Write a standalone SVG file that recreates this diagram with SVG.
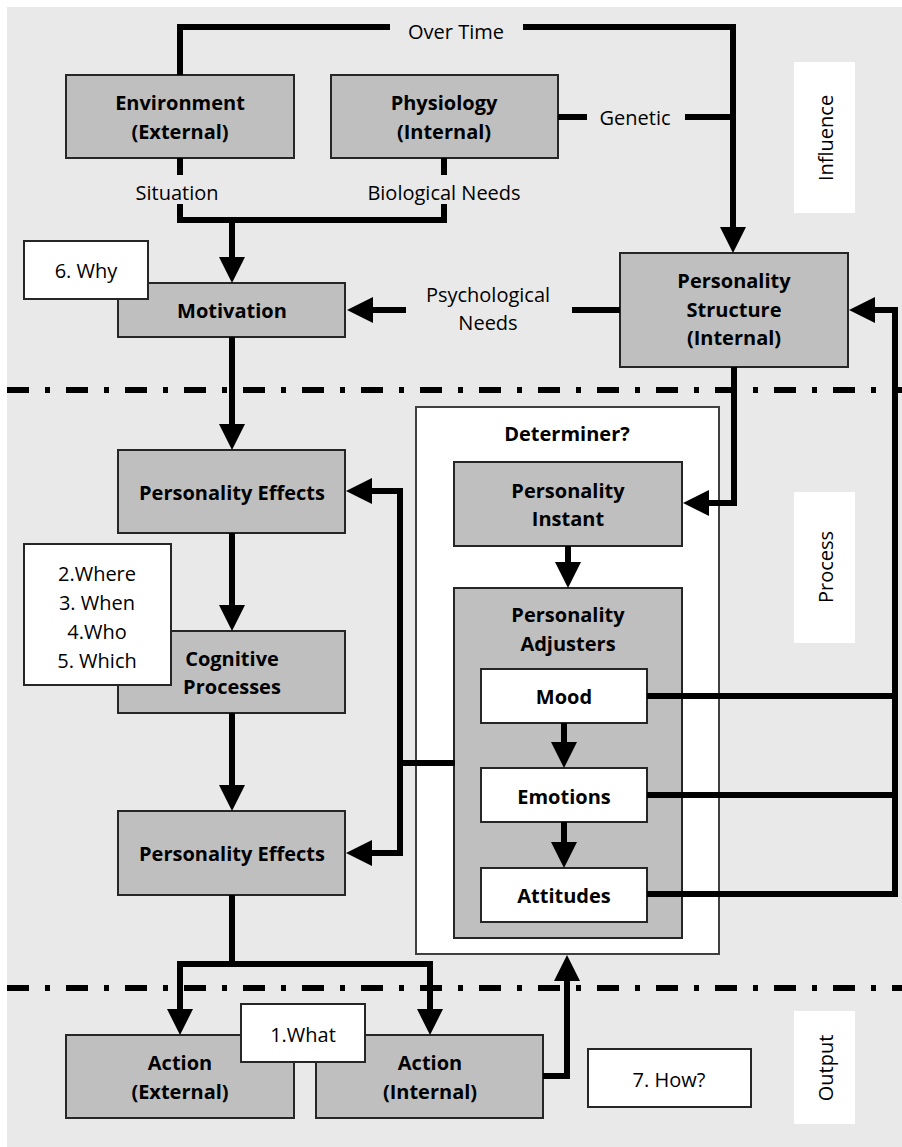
<svg xmlns="http://www.w3.org/2000/svg" width="902" height="1147" viewBox="0 0 902 1147">
  <style>
    .bg { fill: #e9e9e9; }
    .box { fill: #bfbfbf; stroke: #262626; stroke-width: 2; }
    .note { fill: #ffffff; stroke: #262626; stroke-width: 2; }
    .frame { fill: #ffffff; stroke: #404040; stroke-width: 2; }
    .tag { fill: #ffffff; }
    text { font-family: "Open Sans", "Noto Sans", "Liberation Sans", sans-serif; font-size: 20px; fill: #000; text-anchor: middle; }
    .b { font-weight: bold; }
    .wire { fill: none; stroke: #000; stroke-width: 6; stroke-linejoin: miter; }
    .arrow { marker-end: url(#head); }
    .sep { fill: none; stroke: #000; stroke-width: 6; stroke-dasharray: 22 16 5 16; }
  </style>
  <defs>
    <marker id="head" markerUnits="userSpaceOnUse" markerWidth="27" markerHeight="26" refX="1" refY="13" orient="auto">
      <path d="M0,0 L26,13 L0,26 Z" fill="#000"/>
    </marker>
  </defs>

  <!-- canvas -->
  <rect class="bg" x="7" y="7" width="895" height="1140"/>

  <!-- section separators -->
  <g id="separators">
    <line class="sep" x1="7" y1="390" x2="902" y2="390"/>
    <line class="sep" x1="7" y1="988" x2="902" y2="988"/>
  </g>

  <!-- section tags -->
  <g id="tag-influence">
    <rect class="tag" x="794" y="62" width="61" height="151"/>
    <text transform="translate(833,138) rotate(-90)">Influence</text>
  </g>
  <g id="tag-process">
    <rect class="tag" x="794" y="492" width="61" height="151"/>
    <text transform="translate(833,567) rotate(-90)">Process</text>
  </g>
  <g id="tag-output">
    <rect class="tag" x="794" y="1011" width="61" height="113"/>
    <text transform="translate(833,1068) rotate(-90)">Output</text>
  </g>

  <!-- determiner frame -->
  <g id="determiner">
    <rect class="frame" x="416" y="407" width="303" height="547"/>
    <text class="b" x="567" y="441">Determiner?</text>
  </g>

  <g id="environment">
    <rect class="box" x="66" y="75" width="228" height="83"/>
    <text class="b" x="180" y="110">Environment</text>
    <text class="b" x="180" y="139">(External)</text>
  </g>
  <g id="physiology">
    <rect class="box" x="331" y="75" width="227" height="83"/>
    <text class="b" x="444" y="110">Physiology</text>
    <text class="b" x="444" y="139">(Internal)</text>
  </g>
  <g id="motivation">
    <rect class="box" x="118" y="283" width="227" height="54"/>
    <text class="b" x="232" y="318">Motivation</text>
  </g>
  <g id="why">
    <rect class="note" x="24" y="241" width="124" height="58"/>
    <text x="86" y="278">6. Why</text>
  </g>
  <g id="personality-structure">
    <rect class="box" x="620" y="253" width="228" height="114"/>
    <text class="b" x="734" y="288">Personality</text>
    <text class="b" x="734" y="317">Structure</text>
    <text class="b" x="734" y="345">(Internal)</text>
  </g>
  <g id="effects-1">
    <rect class="box" x="118" y="450" width="227" height="83"/>
    <text class="b" x="232" y="500">Personality Effects</text>
  </g>
  <g id="cognitive">
    <rect class="box" x="118" y="631" width="227" height="82"/>
    <text class="b" x="232" y="666">Cognitive</text>
    <text class="b" x="232" y="694">Processes</text>
  </g>
  <g id="questions">
    <rect class="note" x="24" y="544" width="147" height="141"/>
    <text x="97" y="581">2.Where</text>
    <text x="97" y="610">3. When</text>
    <text x="97" y="639">4.Who</text>
    <text x="97" y="668">5. Which</text>
  </g>
  <g id="effects-2">
    <rect class="box" x="118" y="811" width="227" height="84"/>
    <text class="b" x="232" y="861">Personality Effects</text>
  </g>
  <g id="personality-instant">
    <rect class="box" x="454" y="462" width="228" height="84"/>
    <text class="b" x="568" y="498">Personality</text>
    <text class="b" x="568" y="526">Instant</text>
  </g>
  <g id="personality-adjusters">
    <rect class="box" x="454" y="588" width="228" height="350"/>
    <text class="b" x="568" y="622">Personality</text>
    <text class="b" x="568" y="651">Adjusters</text>
  </g>
  <g id="mood">
    <rect class="note" x="481" y="669" width="166" height="54"/>
    <text class="b" x="564" y="704">Mood</text>
  </g>
  <g id="emotions">
    <rect class="note" x="481" y="768" width="166" height="54"/>
    <text class="b" x="564" y="804">Emotions</text>
  </g>
  <g id="attitudes">
    <rect class="note" x="481" y="868" width="166" height="54"/>
    <text class="b" x="564" y="903">Attitudes</text>
  </g>
  <g id="action-external">
    <rect class="box" x="66" y="1035" width="228" height="83"/>
    <text class="b" x="180" y="1070">Action</text>
    <text class="b" x="180" y="1099">(External)</text>
  </g>
  <g id="action-internal">
    <rect class="box" x="316" y="1035" width="227" height="83"/>
    <text class="b" x="430" y="1070">Action</text>
    <text class="b" x="430" y="1099">(Internal)</text>
  </g>
  <g id="what">
    <rect class="note" x="241" y="1004" width="124" height="58"/>
    <text x="303" y="1042">1.What</text>
  </g>
  <g id="how">
    <rect class="note" x="588" y="1049" width="163" height="58"/>
    <text x="669" y="1087">7. How?</text>
  </g>

  <!-- connectors -->
  <g id="connectors">
    <!-- over time -->
    <path class="wire" d="M180,75 V27 H390"/>
    <path class="wire arrow" d="M523,27 H733 V228"/>
    <text x="456" y="39">Over Time</text>
    <!-- genetic -->
    <path class="wire" d="M558,117 H587"/>
    <path class="wire" d="M685,117 H733"/>
    <text x="635" y="125">Genetic</text>
    <!-- situation / biological needs -->
    <path class="wire" d="M180,158 V175"/>
    <path class="wire" d="M444,158 V175"/>
    <path class="wire" d="M180,204 V220 H444 V204"/>
    <path class="wire arrow" d="M232,220 V258"/>
    <text x="177" y="200">Situation</text>
    <text x="444" y="200">Biological Needs</text>
    <!-- psychological needs -->
    <path class="wire" d="M620,310 H572"/>
    <path class="wire arrow" d="M406,310 H372"/>
    <text x="488" y="302">Psychological</text>
    <text x="488" y="330">Needs</text>
    <!-- main chain -->
    <path class="wire arrow" d="M232,337 V425"/>
    <path class="wire arrow" d="M232,533 V606"/>
    <path class="wire arrow" d="M232,713 V786"/>
    <path class="wire" d="M232,895 V964"/>
    <path class="wire arrow" d="M232,964 H180 V1010"/>
    <path class="wire arrow" d="M232,964 H430 V1010"/>
    <!-- action internal back to determiner -->
    <path class="wire arrow" d="M543,1076 H567 V980"/>
    <!-- adjusters to effects -->
    <path class="wire arrow" d="M455,763 H400 V491 H371"/>
    <path class="wire arrow" d="M400,763 V853 H371"/>
    <!-- structure to instant -->
    <path class="wire arrow" d="M734,367 V503 H708"/>
    <!-- inside determiner -->
    <path class="wire arrow" d="M568,546 V563"/>
    <path class="wire arrow" d="M564,723 V743"/>
    <path class="wire arrow" d="M564,822 V843"/>
    <!-- feedback to structure -->
    <path class="wire" d="M647,696 H895"/>
    <path class="wire" d="M647,795 H895"/>
    <path class="wire arrow" d="M647,894 H895 V310 H874"/>
  </g>
</svg>
